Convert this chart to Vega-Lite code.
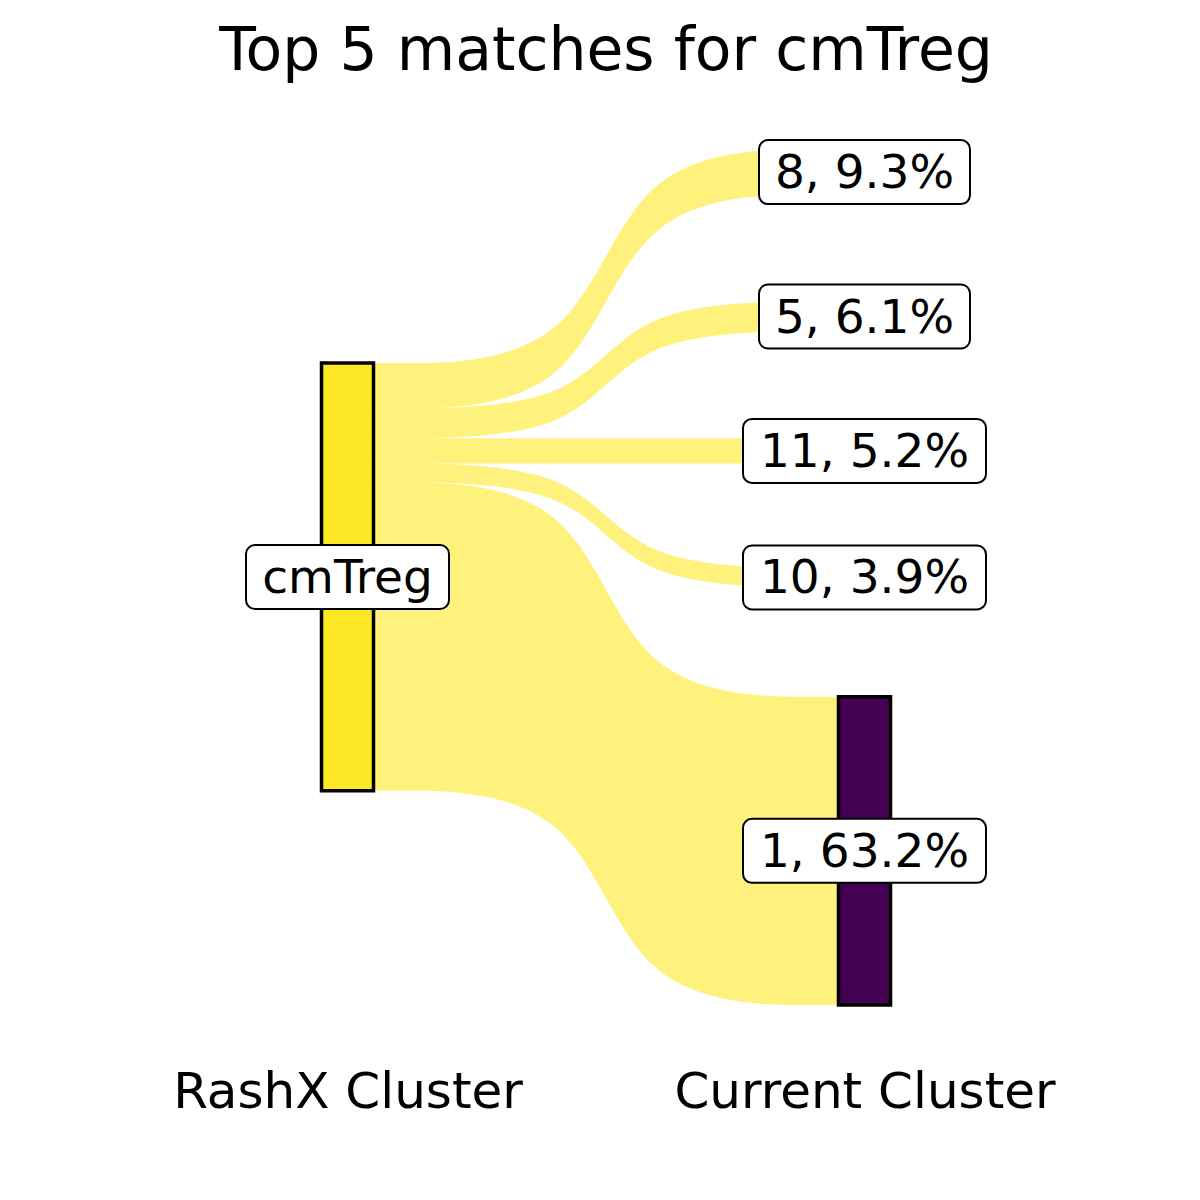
{
  "$schema": "https://vega.github.io/schema/vega-lite/v6.json",
  "width": 1034,
  "height": 878,
  "autosize": {"type": "none"},
  "padding": {"left": 89, "top": 127, "right": 77, "bottom": 195},
  "background": "white",
  "title": {"text": "Top 5 matches for cmTreg", "font": "DejaVu Sans", "fontSize": 60, "fontWeight": "normal", "color": "black", "anchor": "middle", "offset": 44},
  "config": {"view": {"stroke": null}},
  "datasets": {
    "flows": [
      {"flow": "8", "x": 1.05, "lo": 122.3, "hi": 131.6},
      {"flow": "8", "x": 1.45, "lo": 122.3, "hi": 131.6},
      {"flow": "8", "x": 1.55, "lo": 166.1, "hi": 175.4},
      {"flow": "8", "x": 1.95, "lo": 166.1, "hi": 175.4},
      {"flow": "5", "x": 1.05, "lo": 116.2, "hi": 122.3},
      {"flow": "5", "x": 1.45, "lo": 116.2, "hi": 122.3},
      {"flow": "5", "x": 1.55, "lo": 138.1, "hi": 144.2},
      {"flow": "5", "x": 1.95, "lo": 138.1, "hi": 144.2},
      {"flow": "11", "x": 1.05, "lo": 111.0, "hi": 116.2},
      {"flow": "11", "x": 1.45, "lo": 111.0, "hi": 116.2},
      {"flow": "11", "x": 1.55, "lo": 111.0, "hi": 116.2},
      {"flow": "11", "x": 1.95, "lo": 111.0, "hi": 116.2},
      {"flow": "10", "x": 1.05, "lo": 107.1, "hi": 111.0},
      {"flow": "10", "x": 1.45, "lo": 107.1, "hi": 111.0},
      {"flow": "10", "x": 1.55, "lo": 85.7, "hi": 89.6},
      {"flow": "10", "x": 1.95, "lo": 85.7, "hi": 89.6},
      {"flow": "1", "x": 1.05, "lo": 43.9, "hi": 107.1},
      {"flow": "1", "x": 1.45, "lo": 43.9, "hi": 107.1},
      {"flow": "1", "x": 1.55, "lo": 0, "hi": 63.2},
      {"flow": "1", "x": 1.95, "lo": 0, "hi": 63.2}
    ],
    "strata": [
      {"x": 1, "stratum": "cmTreg", "label": "cmTreg", "lo": 43.9, "hi": 131.6},
      {"x": 2, "stratum": "8", "label": "8, 9.3%", "lo": 166.1, "hi": 175.4},
      {"x": 2, "stratum": "5", "label": "5, 6.1%", "lo": 138.1, "hi": 144.2},
      {"x": 2, "stratum": "11", "label": "11, 5.2%", "lo": 111.0, "hi": 116.2},
      {"x": 2, "stratum": "10", "label": "10, 3.9%", "lo": 85.7, "hi": 89.6},
      {"x": 2, "stratum": "1", "label": "1, 63.2%", "lo": 0, "hi": 63.2}
    ]
  },
  "encoding": {
    "x": {
      "field": "x", "type": "quantitative",
      "scale": {"domain": [0.5, 2.5], "nice": false, "zero": false},
      "axis": {"values": [1, 2], "labelExpr": "datum.value == 1 ? 'RashX Cluster' : 'Current Cluster'", "domain": false, "ticks": false, "tickSize": 0, "grid": false, "title": null, "labelFont": "DejaVu Sans", "labelFontSize": 50, "labelColor": "black", "labelPadding": 62, "labelLimit": 0, "labelFlush": false, "labelOverlap": false, "labelBound": false}
    }
  },
  "layer": [
    {
      "data": {"name": "flows"},
      "mark": {"type": "area", "interpolate": "basis", "orient": "vertical", "color": "#FDE725", "opacity": 0.6},
      "encoding": {
        "y": {"field": "lo", "type": "quantitative", "scale": {"domain": [0, 180], "nice": false}, "axis": null},
        "y2": {"field": "hi"},
        "detail": {"field": "flow"}
      }
    },
    {
      "data": {"name": "strata"},
      "transform": [{"filter": {"field": "stratum", "oneOf": ["cmTreg", "1"]}}],
      "mark": {"type": "rect", "width": 52, "stroke": "black", "strokeWidth": 3.5, "opacity": 1},
      "encoding": {
        "y": {"field": "lo", "type": "quantitative", "scale": {"domain": [0, 180], "nice": false}, "axis": null},
        "y2": {"field": "hi"},
        "color": {"field": "stratum", "type": "nominal", "scale": {"domain": ["cmTreg", "1"], "range": ["#FDE725", "#440154"]}, "legend": null}
      }
    },
    {
      "data": {"name": "strata"},
      "transform": [{"calculate": "(datum.lo + datum.hi) / 2", "as": "mid"}, {"filter": {"field": "label", "oneOf": ["cmTreg"]}}],
      "mark": {"type": "rect", "width": 203, "height": 64, "cornerRadius": 9, "fill": "white", "stroke": "black", "strokeWidth": 2},
      "encoding": {"y": {"field": "mid", "type": "quantitative", "scale": {"domain": [0, 180], "nice": false}, "axis": null}}
    },
    {
      "data": {"name": "strata"},
      "transform": [{"calculate": "(datum.lo + datum.hi) / 2", "as": "mid"}, {"filter": {"field": "label", "oneOf": ["8, 9.3%", "5, 6.1%"]}}],
      "mark": {"type": "rect", "width": 211, "height": 64, "cornerRadius": 9, "fill": "white", "stroke": "black", "strokeWidth": 2},
      "encoding": {"y": {"field": "mid", "type": "quantitative", "scale": {"domain": [0, 180], "nice": false}, "axis": null}}
    },
    {
      "data": {"name": "strata"},
      "transform": [{"calculate": "(datum.lo + datum.hi) / 2", "as": "mid"}, {"filter": {"field": "label", "oneOf": ["11, 5.2%", "10, 3.9%", "1, 63.2%"]}}],
      "mark": {"type": "rect", "width": 243, "height": 64, "cornerRadius": 9, "fill": "white", "stroke": "black", "strokeWidth": 2},
      "encoding": {"y": {"field": "mid", "type": "quantitative", "scale": {"domain": [0, 180], "nice": false}, "axis": null}}
    },
    {
      "data": {"name": "strata"},
      "transform": [{"calculate": "(datum.lo + datum.hi) / 2", "as": "mid"}],
      "mark": {"type": "text", "font": "DejaVu Sans", "fontSize": 47, "color": "black", "baseline": "middle", "align": "center", "dy": 2},
      "encoding": {
        "y": {"field": "mid", "type": "quantitative", "scale": {"domain": [0, 180], "nice": false}, "axis": null},
        "text": {"field": "label"}
      }
    }
  ]
}
